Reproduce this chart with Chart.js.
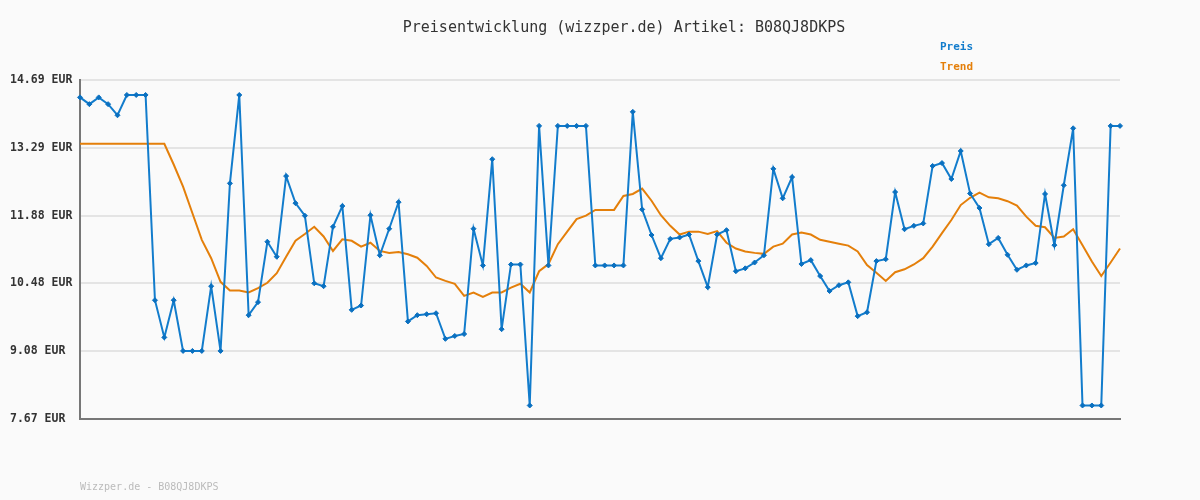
<!DOCTYPE html>
<html><head><meta charset="utf-8">
<script src="https://cdn.jsdelivr.net/npm/chart.js@4/dist/chart.umd.min.js"></script>
<style>html,body{margin:0;padding:0;background:#fafafa;}#wrap{position:relative;width:1200px;height:500px;}</style>
</head><body><div id="wrap"><canvas id="c" width="1200" height="500"></canvas></div>
<script>
const titleText = 'Preisentwicklung (wizzper.de) Artikel: B08QJ8DKPS';
const footerText = 'Wizzper.de - B08QJ8DKPS';
const seriesNames = ['Preis', 'Trend'];
const seriesColors = ['#127ccc', '#e47f0a'];
const yTicks = [7.67, 9.08, 10.48, 11.88, 13.29, 14.69];
const preis = [14.33,14.19,14.33,14.19,13.96,14.38,14.38,14.38,10.13,9.36,
  10.13,9.08,9.08,9.08,10.42,9.08,12.55,14.38,9.82,10.09,
  11.34,11.03,12.70,12.14,11.88,10.48,10.42,11.65,12.08,9.93,
  10.02,11.89,11.06,11.61,12.16,9.69,9.82,9.84,9.86,9.33,
  9.39,9.43,11.61,10.85,13.05,9.53,10.87,10.87,7.95,13.74,
  10.85,13.74,13.74,13.74,13.74,10.85,10.85,10.85,10.85,14.03,
  12.01,11.48,11.00,11.40,11.43,11.49,10.94,10.40,11.49,11.58,
  10.73,10.79,10.91,11.06,12.85,12.24,12.68,10.88,10.96,10.63,
  10.32,10.44,10.50,9.80,9.88,10.94,10.98,12.37,11.60,11.67,
  11.72,12.91,12.97,12.64,13.22,12.34,12.04,11.29,11.42,11.07,
  10.76,10.85,10.90,12.33,11.27,12.51,13.69,7.95,7.95,7.95,
  13.74,13.74];
const trend = [13.37,13.37,13.37,13.37,13.37,13.37,13.37,13.37,13.37,13.37,
  12.94,12.48,11.93,11.38,11.00,10.51,10.33,10.33,10.29,10.38,
  10.49,10.69,11.03,11.36,11.50,11.65,11.45,11.15,11.39,11.36,
  11.24,11.32,11.15,11.11,11.13,11.08,11.01,10.84,10.60,10.53,
  10.47,10.22,10.29,10.20,10.29,10.29,10.39,10.47,10.29,10.73,
  10.88,11.29,11.55,11.81,11.88,12.00,12.00,12.00,12.29,12.33,
  12.44,12.19,11.89,11.67,11.49,11.55,11.55,11.50,11.56,11.32,
  11.20,11.14,11.11,11.09,11.24,11.30,11.49,11.53,11.49,11.38,
  11.34,11.30,11.26,11.14,10.86,10.70,10.53,10.71,10.77,10.87,
  11.00,11.24,11.52,11.79,12.10,12.25,12.36,12.26,12.24,12.18,
  12.09,11.86,11.67,11.64,11.42,11.45,11.60,11.27,10.93,10.63,
  10.91,11.20];
const categories = preis.map((_, i) => String(i + 1));

const textPlugin = {
  id: 'texts',
  afterDraw(chart) {
    const ctx = chart.ctx;
    ctx.save();
    ctx.textBaseline = 'middle';
    ctx.font = '15px "DejaVu Sans Mono"';
    ctx.fillStyle = '#333';
    ctx.textAlign = 'center';
    ctx.fillText(titleText, 624, 28);
    ctx.textAlign = 'left';
    ctx.font = 'bold 11px "DejaVu Sans Mono"';
    ctx.fillStyle = seriesColors[0];
    ctx.fillText(seriesNames[0], 940, 47);
    ctx.fillStyle = seriesColors[1];
    ctx.fillText(seriesNames[1], 940, 67);
    ctx.font = '10px "DejaVu Sans Mono"';
    ctx.fillStyle = '#bbbbbb';
    ctx.fillText(footerText, 80, 487);
    ctx.restore();
  }
};

new Chart(document.getElementById('c'), {
  type: 'line',
  data: {
    labels: categories,
    datasets: [
      { label: seriesNames[0], data: preis, borderColor: seriesColors[0], backgroundColor: '#0a70c0',
        borderWidth: 2, pointStyle: 'rectRot', pointRadius: 2.5, pointBorderWidth: 1, pointBorderColor: '#0a70c0', tension: 0, order: 1 },
      { label: seriesNames[1], data: trend, borderColor: seriesColors[1], borderWidth: 2,
        pointRadius: 0, tension: 0, order: 2 }
    ]
  },
  options: {
    responsive: false, animation: false, devicePixelRatio: 1,
    layout: { padding: { left: 10, right: 80, top: 80, bottom: 81 } },
    plugins: { legend: { display: false }, title: { display: false }, tooltip: { enabled: false } },
    scales: {
      x: {
        type: 'category', offset: false,
        grid: { display: false },
        ticks: { display: false },
        border: { display: true, color: '#777', width: 2 },
        afterFit(s) { s.height = 0; }
      },
      y: {
        min: 7.67, max: 14.69,
        afterBuildTicks(s) { s.ticks = yTicks.map(v => ({ value: v })); },
        afterFit(s) { s.width = 70; },
        grid: { color: '#e4e4e4', lineWidth: 2, drawTicks: false },
        border: { display: true, color: '#777', width: 2 },
        ticks: {
          crossAlign: 'far', padding: 0, color: '#333',
          font: { family: 'DejaVu Sans Mono', size: 11.5, weight: 'bold' },
          callback: (v) => Number(v).toFixed(2) + ' EUR'
        }
      }
    }
  },
  plugins: [textPlugin]
});
</script></body></html>
